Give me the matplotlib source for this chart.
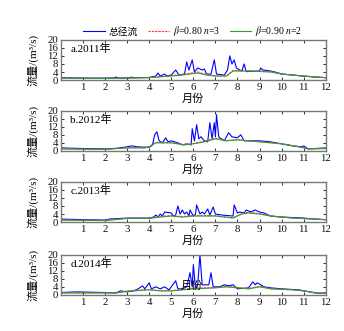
import matplotlib
matplotlib.use("Agg")
import matplotlib.pyplot as plt

plt.rcParams["font.family"] = ["Liberation Serif", "Noto Sans CJK SC"]
plt.rcParams["mathtext.fontset"] = "stix"
plt.rcParams["axes.unicode_minus"] = False

years = ["a.2011年", "b.2012年", "c.2013年", "d.2014年"]
legend_labels = ["总径流", r"$\beta$=0.80 $n$=3", r"$\beta$=0.90 $n$=2"]
month_ticks = list(range(0, 13))
flow_ticks = [0, 4, 8, 12, 16, 20]

# total runoff (month position, m3/s)
total_x_2011 = [0, 1, 2, 2.4, 2.5, 2.6, 3.1, 3.2, 3.3, 4, 4.3, 4.4, 4.5, 4.7, 4.8, 5, 5.2, 5.35,
                5.6, 5.7, 5.8, 5.95, 6.05, 6.2, 6.4, 6.5, 6.6, 6.8, 6.95, 7.05, 7.4, 7.55, 7.65,
                7.75, 7.85, 7.95, 8.1, 8.2, 8.3, 8.4, 9.0, 9.05, 9.15, 9.5, 9.7, 10, 10.5, 11, 11.5, 12]
total_y_2011 = [1.2, 1.0, 1.0, 1.1, 1.5, 1.0, 1.1, 1.5, 1.2, 1.3, 2.0, 3.5, 2.0, 3.0, 2.0, 2.5, 5.0, 2.5,
                3.0, 9.0, 5.0, 10.0, 4.0, 6.0, 5.0, 5.5, 3.0, 3.0, 10.0, 3.0, 2.5, 5.0, 12.0,
                8.0, 10.0, 6.0, 5.0, 4.5, 8.0, 4.2, 4.5, 6.0, 5.0, 4.5, 4.0, 3.0, 2.5, 2.0, 1.5, 1.2]
base_x_2011 = [0, 2, 3, 4, 5, 5.5, 6.2, 6.6, 7, 7.5, 7.8, 8.5, 9.5, 10, 11, 12]
base80_2011 = [1.0, 0.8, 1.0, 1.3, 2.2, 2.8, 4.0, 2.7, 2.1, 2.1, 4.8, 4.6, 4.2, 3.1, 2.0, 1.2]
base90_2011 = [1.0, 0.8, 1.0, 1.2, 2.0, 2.5, 3.5, 2.5, 2.0, 2.0, 4.5, 4.5, 4.0, 3.0, 2.0, 1.2]

total_x_2012 = [0, 1, 2, 2.5, 3, 3.2, 3.5, 4, 4.1, 4.15, 4.25, 4.35, 4.45, 4.6, 4.75, 4.85, 5, 5.3,
                5.5, 5.7, 5.9, 5.95, 6.05, 6.15, 6.25, 6.35, 6.5, 6.65, 6.75, 6.85, 6.95, 7.0,
                7.05, 7.15, 7.4, 7.6, 7.75, 8, 8.15, 8.3, 9, 9.5, 10, 10.5, 10.9, 11.0, 11.2, 11.5, 12]
total_y_2012 = [1.5, 1.2, 1.0, 1.3, 2.0, 2.5, 2.0, 1.8, 2.5, 3.0, 8.0, 9.5, 5.0, 4.0, 6.5, 4.5, 5.0, 4.0,
                3.0, 3.5, 3.0, 11.0, 5.0, 13.0, 6.0, 7.0, 5.0, 4.5, 14.0, 6.0, 14.0, 7.0,
                18.0, 7.0, 5.0, 9.0, 7.0, 6.5, 8.0, 5.0, 5.0, 4.5, 3.5, 2.5, 2.0, 2.5, 1.0, 1.2, 1.5]
base_x_2012 = [0, 2, 3, 3.8, 4.0, 4.3, 5, 5.6, 6.0, 6.5, 7, 7.5, 8, 9, 10, 10.8, 11.2, 12]
base80_2012 = [1.0, 0.8, 1.6, 1.6, 2.2, 4.2, 4.1, 3.1, 3.7, 4.8, 6.3, 5.1, 5.6, 4.6, 3.6, 2.1, 1.0, 1.2]
base90_2012 = [1.0, 0.8, 1.5, 1.5, 2.0, 4.0, 4.0, 3.0, 3.5, 4.5, 6.0, 5.0, 5.5, 4.5, 3.5, 2.0, 1.0, 1.2]

total_x_2013 = [0, 1, 2, 2.2, 3, 3.5, 4, 4.2, 4.3, 4.4, 4.5, 4.6, 4.7, 5, 5.1, 5.2, 5.3, 5.4, 5.5,
                5.6, 5.7, 5.8, 5.85, 6, 6.1, 6.15, 6.3, 6.4, 6.5, 6.65, 6.75, 6.9, 7, 7.3, 7.8,
                7.85, 8, 8.1, 8.3, 8.4, 8.6, 8.8, 9.0, 9.2, 9.5, 10, 11, 11.5, 12]
total_y_2013 = [1.5, 1.2, 1.0, 1.5, 2.0, 2.0, 2.0, 2.5, 3.5, 2.5, 4.0, 3.0, 5.0, 4.5, 3.0, 3.5, 8.0, 4.0, 6.0,
                4.0, 5.0, 3.0, 6.0, 3.0, 4.0, 8.5, 4.0, 5.0, 4.0, 6.5, 3.5, 7.5, 4.0, 3.5, 3.0,
                8.5, 4.5, 5.0, 4.5, 6.0, 5.0, 6.0, 5.0, 4.5, 3.0, 2.5, 2.0, 1.5, 1.2]
base_x_2013 = [0, 2, 3, 4, 4.5, 5, 5.5, 6, 6.5, 7, 7.8, 8.2, 8.5, 9, 9.5, 10.5, 11.5, 12]
base80_2013 = [1.0, 0.8, 1.9, 1.9, 2.7, 3.3, 2.7, 3.3, 3.2, 3.2, 2.1, 4.2, 4.8, 4.2, 3.1, 2.0, 1.5, 1.2]
base90_2013 = [1.0, 0.8, 1.8, 1.8, 2.5, 3.0, 2.5, 3.0, 3.0, 3.0, 2.0, 4.0, 4.5, 4.0, 3.0, 2.0, 1.5, 1.2]

total_x_2014 = [0, 0.7, 1.5, 2, 2.5, 2.7, 3, 3.3, 3.5, 3.7, 3.8, 4.0, 4.1, 4.3, 4.5, 4.7, 4.9, 5.2,
                5.3, 5.5, 5.7, 5.85, 5.95, 6.0, 6.1, 6.2, 6.3, 6.4, 6.7, 6.8, 6.9, 7.2, 7.4, 7.6,
                7.8, 8, 8.5, 8.7, 8.8, 8.9, 9.2, 9.5, 10, 10.8, 11.0, 11.3, 11.7, 12]
total_y_2014 = [1.2, 1.5, 1.3, 1.2, 1.0, 2.0, 1.5, 2.0, 3.0, 4.5, 3.0, 6.0, 3.0, 4.0, 3.0, 4.0, 2.5, 7.0,
                3.0, 3.0, 4.0, 11.0, 4.0, 15.0, 3.0, 5.0, 20.0, 5.0, 5.0, 11.0, 4.0, 4.0, 5.0, 4.5,
                5.0, 3.0, 3.5, 6.5, 5.0, 6.0, 4.0, 3.5, 3.0, 2.5, 2.0, 1.5, 0.8, 1.0]
base_x_2014 = [0, 2, 2.5, 3, 4, 4.5, 5, 5.5, 6, 7, 7.5, 8, 8.5, 9, 9.5, 10.5, 11, 11.5, 12]
base80_2014 = [1.0, 1.0, 1.0, 1.9, 2.7, 2.1, 2.1, 2.7, 3.3, 3.7, 4.2, 3.7, 3.1, 4.3, 3.1, 2.6, 2.1, 1.0, 0.8]
base90_2014 = [1.0, 1.0, 1.0, 1.8, 2.5, 2.0, 2.0, 2.5, 3.0, 3.5, 4.0, 3.5, 3.0, 4.0, 3.0, 2.5, 2.0, 1.0, 0.8]

panels = [
    (total_x_2011, total_y_2011, base_x_2011, base80_2011, base90_2011),
    (total_x_2012, total_y_2012, base_x_2012, base80_2012, base90_2012),
    (total_x_2013, total_y_2013, base_x_2013, base80_2013, base90_2013),
    (total_x_2014, total_y_2014, base_x_2014, base80_2014, base90_2014),
]

fig = plt.figure(figsize=(3.44, 3.31), dpi=100)
bottoms = [0.758, 0.544, 0.329, 0.109]

lines = []
for i, (tx, ty, bx, b80, b90) in enumerate(panels):
    ax = fig.add_axes([0.177, bottoms[i], 0.770, 0.122])
    l1, = ax.plot(tx, ty, color="#0000ff", lw=0.8)
    l2, = ax.plot(bx, b80, color="#ff3030", lw=0.8, ls=(0, (2, 1)))
    l3, = ax.plot(bx, b90, color="#30a030", lw=0.8)
    lines = [l1, l2, l3]
    ax.set_xlim(0, 12)
    ax.set_ylim(0, 20)
    ax.set_xticks(month_ticks)
    ax.set_xticklabels([""] + [str(m) for m in month_ticks[1:]])
    ax.set_yticks(flow_ticks)
    ax.tick_params(direction="in", top=True, right=True, labelsize=7.8,
                   length=2.5, width=0.6, pad=2, colors="#111111")
    for sp in ax.spines.values():
        sp.set_color("#777777")
        sp.set_linewidth(1.0)
    ax.set_xlabel("月份", fontsize=8, labelpad=1)
    ax.set_ylabel("流量/(m³/s)", fontsize=8, labelpad=0)
    ax.yaxis.set_label_coords(-0.085, 0.5)
    ax.text(0.035, 0.9, years[i], transform=ax.transAxes, fontsize=8, va="top", ha="left")
    if i == 3:
        ax.text(5.95, 4.6, "月份", fontsize=8, ha="center", va="center")

fig.legend(lines, legend_labels, loc="center", bbox_to_anchor=(0.56, 0.905), ncol=3,
           frameon=False, fontsize=7, handlelength=2.2, columnspacing=1.0, handletextpad=0.4)

fig.savefig("out.png", dpi=100)
